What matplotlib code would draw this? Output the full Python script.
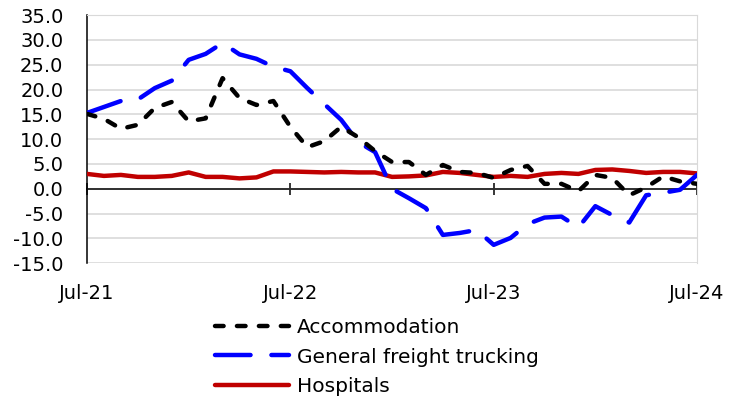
import matplotlib
matplotlib.use("Agg")
import matplotlib.pyplot as plt
import numpy as np

# monthly series, Jul-21 .. Jul-24 (37 months)
months = np.arange(37)
tick_pos = [0, 12, 24, 36]
tick_labels = ["Jul-21", "Jul-22", "Jul-23", "Jul-24"]

accommodation = [15.1, 14.1, 12.1, 12.9, 16.3, 17.5, 13.6, 14.2, 22.3, 18.3,
                 16.9, 17.7, 12.5, 8.4, 9.6, 12.5, 10.4, 7.6, 5.4, 5.4,
                 2.8, 4.8, 3.4, 3.2, 2.2, 3.8, 4.6, 1.0, 1.0, -0.5,
                 2.8, 2.2, -1.3, 0.3, 2.5, 1.5, 1.0]

trucking = [15.3, 16.5, 17.7, 18.0, 20.3, 21.8, 26.0, 27.2, 29.4, 27.1,
            26.2, 24.6, 23.7, 20.3, 17.1, 13.9, 9.4, 7.4, 0.0, -1.9,
            -3.9, -9.3, -8.9, -8.3, -11.3, -9.9, -7.1, -5.8, -5.6, -7.8,
            -3.5, -5.3, -6.8, -1.3, -0.8, -0.2, 2.8]

hospitals = [3.0, 2.6, 2.8, 2.4, 2.4, 2.6, 3.3, 2.4, 2.4, 2.1,
             2.3, 3.5, 3.5, 3.4, 3.3, 3.4, 3.3, 3.3, 2.4, 2.5,
             2.7, 3.4, 3.2, 2.8, 2.4, 2.6, 2.4, 3.0, 3.2, 3.0,
             3.8, 3.9, 3.6, 3.2, 3.4, 3.4, 3.1]

plt.rcParams['lines.scale_dashes'] = False

fig = plt.figure(figsize=(7.4, 4.04), dpi=100)
ax = fig.add_axes([0.1176, 0.3485, 0.8243, 0.6139])

lw = 3.2
ax.plot(months, hospitals, color="#C00000", lw=lw, solid_capstyle="round",
        label="Hospitals", zorder=3)
ax.plot(months, trucking, color="#0000FF", lw=lw, dashes=(25.6, 15.0),
        dash_capstyle="round", label="General freight trucking", zorder=4)
ax.plot(months, accommodation, color="black", lw=lw, dashes=(6.2, 9.6),
        dash_capstyle="round", label="Accommodation", zorder=5)

ax.set_xlim(0, 36)
ax.set_ylim(-15, 35)
ax.set_yticks(np.arange(-15, 36, 5))
ax.set_yticklabels(["%.1f" % v for v in np.arange(-15, 36, 5)])
ax.set_xticks(tick_pos)
ax.set_xticklabels(tick_labels)

ax.grid(axis="y", color="#D9D9D9", lw=1.2)
ax.set_axisbelow(True)

ax.spines["left"].set_color("black")
ax.spines["left"].set_linewidth(1.1)
ax.spines["top"].set_color("#D9D9D9")
ax.spines["right"].set_color("#D9D9D9")
ax.spines["bottom"].set_position(("data", 0))
ax.spines["bottom"].set_color("black")
ax.spines["bottom"].set_linewidth(1.1)
ax.spines["bottom"].set_zorder(2)

ax.tick_params(axis="y", length=0, pad=17, labelsize=14)
ax.tick_params(axis="x", direction="inout", length=9, width=1.1,
               pad=64, labelsize=14)

handles, labels = ax.get_legend_handles_labels()
order = [2, 1, 0]
fig.legend([handles[i] for i in order], [labels[i] for i in order],
           loc="center left", bbox_to_anchor=(0.2905, 0.1163),
           frameon=False, fontsize=14.5, handlelength=3.7,
           handletextpad=0.35, labelspacing=0.5, borderpad=0,
           borderaxespad=0)

fig.savefig("out.png", dpi=100)
